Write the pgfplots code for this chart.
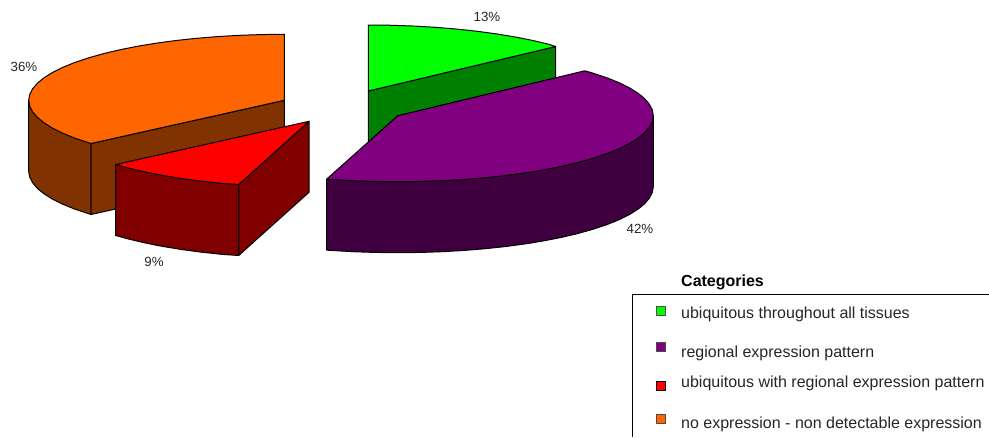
\documentclass[border=0pt]{standalone}
\usepackage{pgfplots}
\usepackage{fontspec}
\setmainfont{Liberation Sans}
\pgfplotsset{compat=1.18}
\definecolor{greenTop}{HTML}{00FF00}
\definecolor{greenSide}{HTML}{008000}
\definecolor{purpleTop}{HTML}{800080}
\definecolor{purpleSide}{HTML}{400040}
\definecolor{redTop}{HTML}{FF0000}
\definecolor{redSide}{HTML}{800000}
\definecolor{orangeTop}{HTML}{FF6600}
\definecolor{orangeSide}{HTML}{803300}
\newcommand{\lbl}{\fontsize{13.3}{14}\selectfont}
\newcommand{\lgd}{\fontsize{16}{18}\selectfont}
\begin{document}
\begin{tikzpicture}
\begin{axis}[
  scale only axis, width=989pt, height=437pt,
  xmin=0, xmax=989, ymin=0, ymax=437,
  y dir=reverse, hide axis,
  every axis plot/.append style={line width=1pt, line join=round},
]
\path (axis cs:0,0) rectangle (axis cs:989,437);

% ubiquitous throughout all tissues, 13%
\addplot[fill=greenSide, draw=black] coordinates {
  (368.3,91) (555.7,46.5) (555.7,117.5) (368.3,162)} -- cycle;
\addplot[fill=greenTop, draw=black] coordinates {
  (368.3,25) (390.6,25.25) (412.7,26) (434.5,27.25) (455.7,28.98) (476.3,31.18)
  (496.1,33.84) (514.9,36.94) (532.6,40.44) (549.0,44.33) (555.7,46.5) (368.3,91)} -- cycle;

% no expression, 36%
\addplot[fill=orangeSide, draw=black] coordinates {
  (28.7,100.3) (28.7,171.3) (29.7,177.05) (32.6,182.76) (37.4,188.38) (44.1,193.87)
  (52.6,199.19) (62.9,204.3) (74.9,209.16) (88.5,213.72) (91,214.5) (91,143.5)} -- cycle;
\addplot[fill=orangeSide, draw=black] coordinates {
  (91,143.5) (284.3,100.3) (284.3,171.3) (91,214.5)} -- cycle;
\addplot[fill=orangeTop, draw=black] coordinates {
  (284.3,34.3) (262.0,34.55) (239.9,35.3) (218.1,36.55) (196.9,38.28) (176.3,40.48)
  (156.5,43.14) (137.7,46.24) (120.0,49.74) (103.6,53.63) (88.5,57.88) (74.9,62.44)
  (62.9,67.3) (52.6,72.41) (44.1,77.73) (37.4,83.22) (32.6,88.84) (29.7,94.55)
  (28.7,100.3) (29.7,106.05) (32.6,111.76) (37.4,117.38) (44.1,122.87) (52.6,128.19)
  (62.9,133.3) (74.9,138.16) (88.5,142.72) (91,143.5) (284.3,100.3)} -- cycle;

% regional expression pattern, 42%
\addplot[fill=purpleSide, draw=black] coordinates {
  (653.3,115.7) (653.3,186.7) (652.3,192.45) (649.4,198.16) (644.6,203.78) (637.9,209.27)
  (629.4,214.59) (619.1,219.7) (607.1,224.56) (593.5,229.12) (578.4,233.37) (562.0,237.26)
  (544.3,240.76) (525.5,243.86) (505.7,246.52) (485.1,248.72) (463.9,250.45) (442.1,251.7)
  (420.0,252.45) (397.7,252.7) (375.4,252.45) (353.3,251.7) (331.5,250.45) (326.7,250.1)
  (326.7,179.1)} -- cycle;
\addplot[fill=purpleTop, draw=black] coordinates {
  (584.7,70.8) (593.5,73.28) (607.1,77.84) (619.1,82.7) (629.4,87.81) (637.9,93.13)
  (644.6,98.62) (649.4,104.24) (652.3,109.95) (653.3,115.7) (652.3,121.45) (649.4,127.16)
  (644.6,132.78) (637.9,138.27) (629.4,143.59) (619.1,148.7) (607.1,153.56) (593.5,158.12)
  (578.4,162.37) (562.0,166.26) (544.3,169.76) (525.5,172.86) (505.7,175.52) (485.1,177.72)
  (463.9,179.45) (442.1,180.7) (420.0,181.45) (397.7,181.7) (375.4,181.45) (353.3,180.7)
  (331.5,179.45) (326.7,179.1) (397.7,115.7)} -- cycle;

% ubiquitous with regional expression pattern, 9%
\addplot[fill=redSide, draw=black] coordinates {
  (238.7,184.5) (309,121.3) (309,192.3) (238.7,255.5)} -- cycle;
\addplot[fill=redSide, draw=black] coordinates {
  (238.7,184.5) (238.7,255.5) (221.6,254.32) (201.0,252.12) (181.2,249.46) (162.4,246.36)
  (144.7,242.86) (128.3,238.97) (115.7,235.5) (115.7,164.5)} -- cycle;
\addplot[fill=redTop, draw=black] coordinates {
  (238.7,184.5) (221.6,183.32) (201.0,181.12) (181.2,178.46) (162.4,175.36) (144.7,171.86)
  (128.3,167.97) (115.7,164.5) (309,121.3)} -- cycle;

% percentage labels
\node[text=black!85, font=\lbl] at (axis cs:487,17) {13\%};
\node[text=black!85, font=\lbl] at (axis cs:640,229) {42\%};
\node[text=black!85, font=\lbl] at (axis cs:24,66.5) {36\%};
\node[text=black!85, font=\lbl] at (axis cs:154,261.5) {9\%};

% key
\addplot[draw=black, line width=0.8pt] coordinates {(989,294.5) (632.8,294.5) (632.8,437)};
\addplot[only marks, mark=square*, mark size=4.5pt, mark options={fill=greenTop, draw=black!70, line width=0.8pt}] coordinates {(661.3,311.3)};
\addplot[only marks, mark=square*, mark size=4.5pt, mark options={fill=purpleTop, draw=black!70, line width=0.8pt}] coordinates {(661.3,347)};
\addplot[only marks, mark=square*, mark size=4.5pt, mark options={fill=redTop, draw=black, line width=0.8pt}] coordinates {(661.3,386.2)};
\addplot[only marks, mark=square*, mark size=4.5pt, mark options={fill=orangeTop, draw=black!70, line width=0.8pt}] coordinates {(661.3,418.7)};
\node[anchor=base west, inner sep=0pt, font=\lgd\bfseries] at (axis cs:681,286) {Categories};
\node[anchor=base west, inner sep=0pt, text=black!85, font=\lgd] at (axis cs:681,318.3) {ubiquitous throughout all tissues};
\node[anchor=base west, inner sep=0pt, text=black!85, font=\lgd] at (axis cs:681,357.3) {regional expression pattern};
\node[anchor=base west, inner sep=0pt, text=black!85, font=\lgd] at (axis cs:681,387.3) {ubiquitous with regional expression pattern};
\node[anchor=base west, inner sep=0pt, text=black!85, font=\lgd] at (axis cs:681,428.3) {no expression - non detectable expression};
\end{axis}
\end{tikzpicture}
\end{document}
